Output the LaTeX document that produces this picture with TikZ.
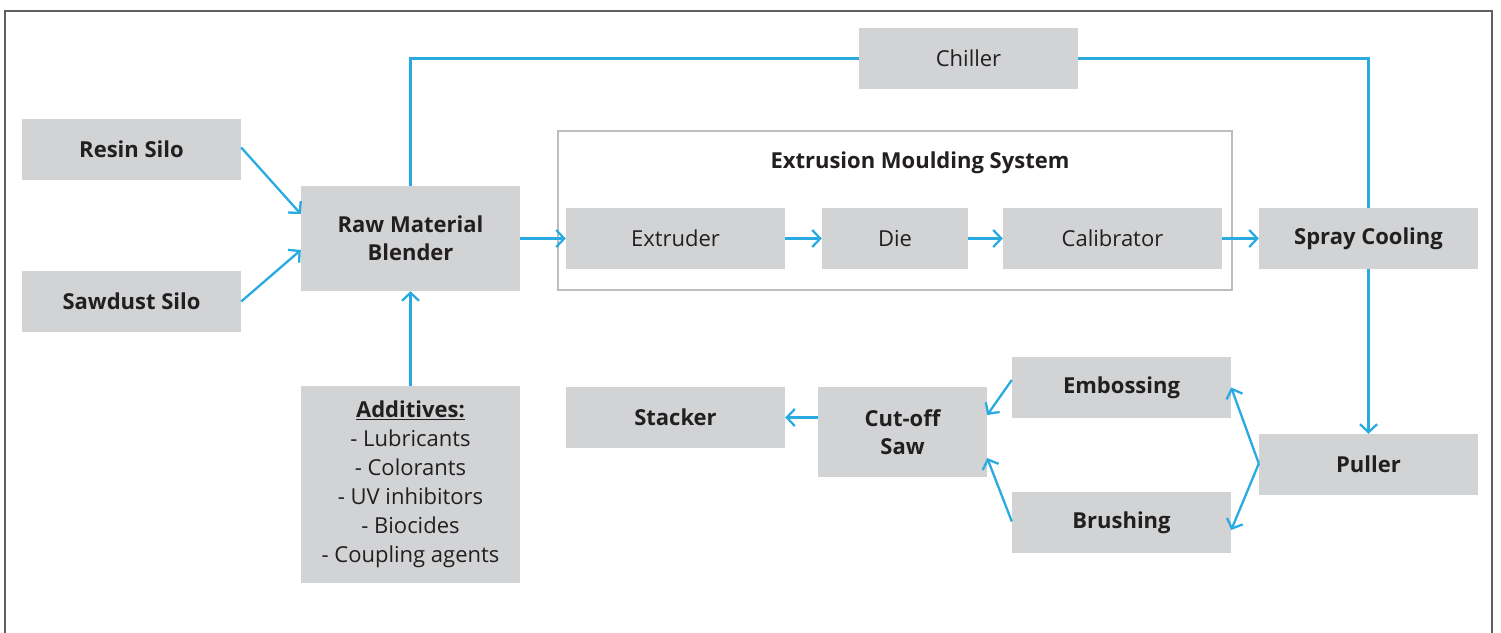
\documentclass[tikz,border=0pt]{standalone}
\usepackage{fontspec}
\setmainfont{Open Sans}
\usetikzlibrary{arrows.meta,calc}
\definecolor{boxgray}{HTML}{D1D3D4}
\definecolor{flow}{HTML}{29ABE2}
\definecolor{txt}{HTML}{231F20}
\definecolor{frame}{HTML}{606060}
\definecolor{inner}{HTML}{BDBDBD}
\begin{document}
\begin{tikzpicture}[x=1pt,y=-1pt,
  box/.style={fill=boxgray,minimum width=219pt,minimum height=61pt,inner sep=0pt,text=txt,align=center,font=\fontsize{22}{28}\selectfont},
  bbox/.style={box,font=\fontsize{22}{28}\selectfont\bfseries},
  flowline/.style={draw=flow,line width=2.3pt},
  arr/.style={flowline,-{Straight Barb[length=8pt,width=17pt,line width=2.3pt]}}]
\useasboundingbox (0,0) rectangle (1501,632);
\draw[frame,line width=2.6pt] (5,640) -- (5,11) -- (1492,11) -- (1492,640);
% extrusion frame
\draw[inner,line width=2pt] (558,131) rectangle (1232,290);
\node[text=txt,font=\fontsize{22}{28}\selectfont\bfseries] (title) at (920,163) {Extrusion Moulding System};
% nodes
\node[bbox] (resin) at (131.5,149.5) {Resin Silo};
\node[bbox] (saw) at (131.5,301.5) {Sawdust Silo};
\node[bbox,minimum height=105pt] (blend) at (410.5,238.5) {Raw Material\\Blender};
\node[box,minimum height=197pt,font=\fontsize{22}{29}\selectfont] (add) at (410.5,484.5) {\textbf{\underline{Additives:}}\\- Lubricants\\- Colorants\\- UV inhibitors\\- Biocides\\- Coupling agents};
\node[box] (chill) at (968.5,58.5) {Chiller};
\node[box] (extr) at (675.5,238.5) {Extruder};
\node[box,minimum width=146pt] (die) at (895,238.5) {Die};
\node[box] (cal) at (1112.5,238.5) {Calibrator};
\node[bbox] (spray) at (1368.5,238.5) {Spray Cooling};
\node[bbox] (pull) at (1368.5,464.5) {Puller};
\node[bbox] (emb) at (1121.5,387.5) {Embossing};
\node[bbox] (brush) at (1121.5,522.5) {Brushing};
\node[bbox,minimum width=169pt,minimum height=90pt] (cut) at (902.5,432) {Cut-off\\Saw};
\node[bbox] (stack) at (675.5,417.5) {Stacker};
% connectors
\draw[arr] ([yshift=2pt]resin.east) -- ([yshift=24.5pt]blend.west);
\draw[arr] (saw.east) -- ([yshift=-11.5pt]blend.west);
\draw[arr] (add.north) -- (blend.south);
\draw[arr] (blend.east) -- (extr.west);
\draw[arr] (extr.east) -- (die.west);
\draw[arr] (die.east) -- (cal.west);
\draw[arr] (cal.east) -- (spray.west);
\draw[flowline] (blend.north) |- (chill.west);
\draw[flowline] (chill.east) -| (spray.north);
\draw[arr] (spray.south) -- (pull.north);
\draw[arr] ([yshift=1pt]pull.west) -- (emb.east);
\draw[arr] ([yshift=1pt]pull.west) -- ([yshift=-7.5pt]brush.east);
\draw[arr] ([yshift=7.5pt]emb.west) -- ([yshift=17pt]cut.east);
\draw[arr] ([yshift=1pt]brush.west) -- ([yshift=-26pt]cut.east);
\draw[arr] (cut.west |- stack.east) -- (stack.east);
\end{tikzpicture}
\end{document}
